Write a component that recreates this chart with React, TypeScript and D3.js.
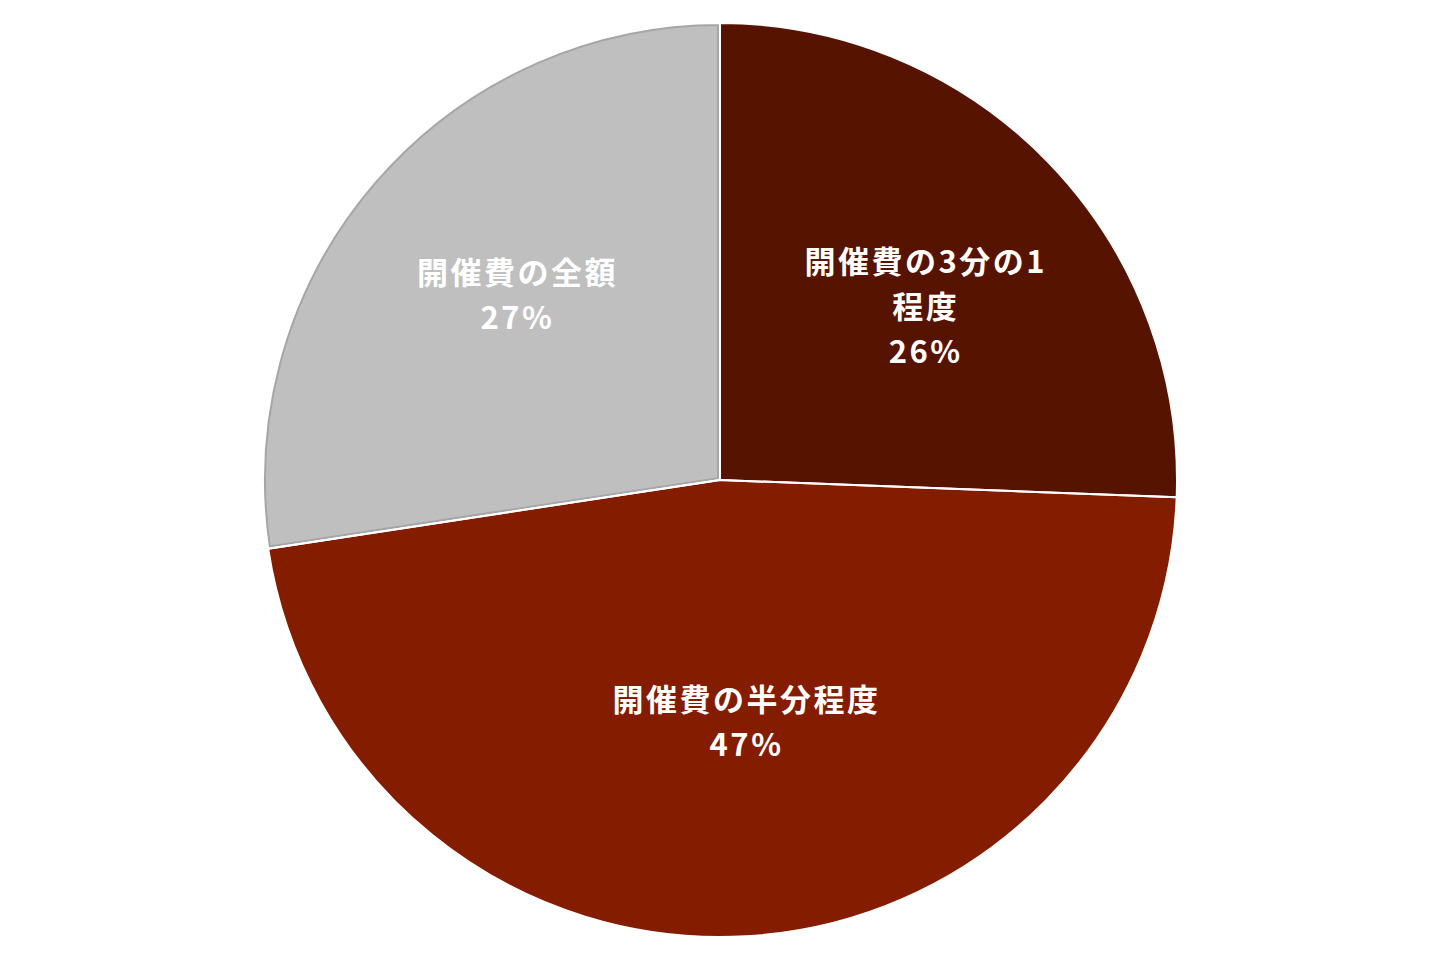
import React from "react";
import * as d3 from "d3";

const categories = ["開催費の3分の1程度", "開催費の半分程度", "開催費の全額"];
const labelLines = [["開催費の3分の1", "程度"], ["開催費の半分程度"], ["開催費の全額"]];
const values = [25.6, 47.0, 27.4];
const colors = ["#561300", "#841c00", "#bfbfbf"];
// label nudges (px) relative to the arc centroid
const labelNudge = [[10, 12], [10, -30], [1, -11]];

const W = 1440, H = 960, CX = 720, CY = 480, R = 457;

export default function App() {
  const pie = d3.pie<number>().sort(null).value((d) => d);
  const arcs = pie(values);
  const arc = d3.arc<d3.PieArcDatum<number>>().innerRadius(0).outerRadius(R);
  const labelArc = d3.arc<d3.PieArcDatum<number>>().innerRadius(270).outerRadius(270);
  const total = d3.sum(values);
  const lh = 45;
  const ls = 2.5;
  return (
    <svg width={W} height={H} style={{ position: "absolute", left: 0, top: 0, background: "#fff" }}>
      <defs>
        {arcs.map((a, i) => (
          <clipPath id={`clip${i}`} key={i}>
            <path d={arc(a) || ""} />
          </clipPath>
        ))}
      </defs>
      <g transform={`translate(${CX},${CY})`}>
        {arcs.map((a, i) => (
          <path key={i} d={arc(a) || ""} fill={colors[i]} />
        ))}
        <path d={arc(arcs[2]) || ""} fill="none" stroke="#a6a6a6" strokeWidth={6} clipPath="url(#clip2)" />
        {arcs.map((a, i) => (
          <path key={"s" + i} d={arc(a) || ""} fill="none" stroke="#fff" strokeWidth={2} strokeLinejoin="round" />
        ))}
        {arcs.map((a, i) => {
          const [cx, cy] = labelArc.centroid(a);
          const x = cx + labelNudge[i][0] + ls / 2;
          const y = cy + labelNudge[i][1];
          const lines = [...labelLines[i], `${Math.round((values[i] / total) * 100)}%`];
          const y0 = y - ((lines.length - 1) * lh) / 2;
          return (
            <text
              key={"t" + i}
              x={x}
              textAnchor="middle"
              fill="#fff"
              fontFamily="'Noto Sans CJK JP', 'Noto Sans', sans-serif"
              fontWeight="bold"
              fontSize={31}
              letterSpacing={ls}
            >
              {lines.map((l, j) => (
                <tspan key={j} x={x} y={y0 + j * lh} dominantBaseline="central">
                  {l}
                </tspan>
              ))}
            </text>
          );
        })}
      </g>
    </svg>
  );
}
